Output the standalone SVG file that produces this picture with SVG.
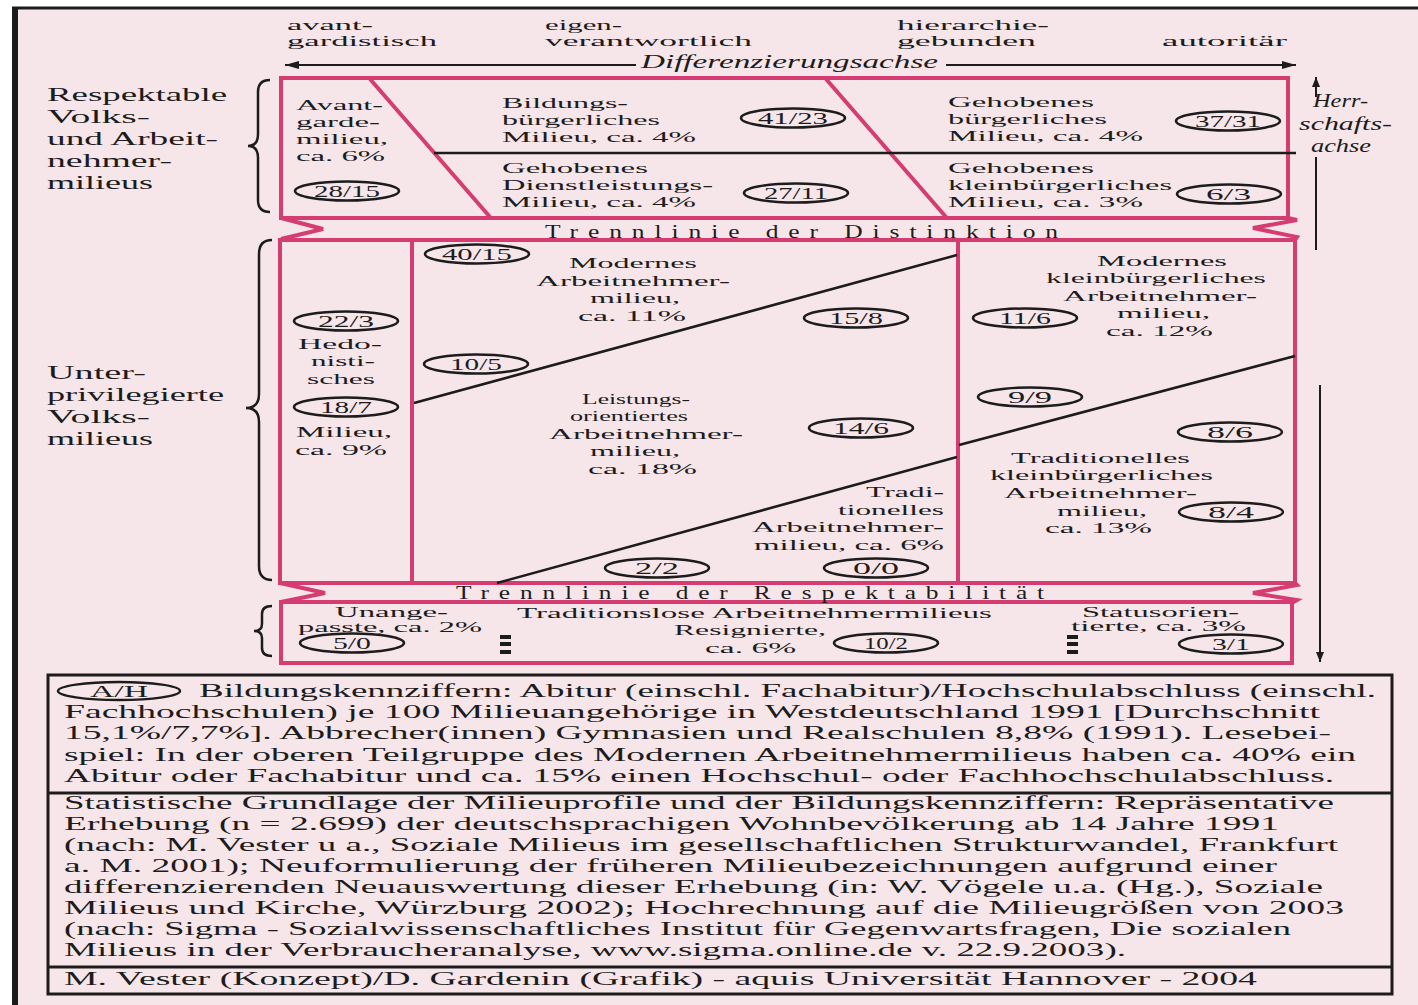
<svg xmlns="http://www.w3.org/2000/svg" width="1418" height="1005" viewBox="0 0 1418 1005">
<defs>
<style>
text{font-family:"Liberation Serif","DejaVu Serif",serif;font-size:15.5px;fill:#1c1c1c}
.tp{font-size:15px}
.l{font-size:19px}
.lg{font-size:18.5px}
.h{font-size:18px}
.nm{font-size:16px}
.bt{font-size:14px}
.it{font-style:italic}
.pk{fill:none;stroke:#d43c72;stroke-width:4}
.bk{fill:none;stroke:#1c1c1c;stroke-width:2.5}
.ov{fill:none;stroke:#1c1c1c;stroke-width:2.5}
.ax{fill:none;stroke:#1c1c1c;stroke-width:2}
.sp{font-size:18px;letter-spacing:7px}
</style>
<marker id="ah" viewBox="0 0 14 8" refX="14" refY="4" markerWidth="14" markerHeight="8" orient="auto" markerUnits="userSpaceOnUse"><path d="M0,0 L14,4 L0,8 z" fill="#1c1c1c"/></marker>
<marker id="ahs" viewBox="0 0 10 8" refX="10" refY="4" markerWidth="10" markerHeight="8" orient="auto" markerUnits="userSpaceOnUse"><path d="M0,0 L10,4 L0,8 z" fill="#1c1c1c"/></marker>
</defs>
<rect x="0" y="0" width="1418" height="1005" fill="#ffffff"/>
<rect x="12" y="7" width="1406" height="998" fill="#f6e6ea"/>
<line x1="12" y1="8" x2="1418" y2="8" stroke="#1c1c1c" stroke-width="3"/>
<line x1="15" y1="7" x2="15" y2="1005" stroke="#1c1c1c" stroke-width="6"/>

<g id="axis-labels">
<text class="tp" x="287" y="30" textLength="86" lengthAdjust="spacingAndGlyphs">avant-</text>
<text class="tp" x="287" y="46" textLength="150" lengthAdjust="spacingAndGlyphs">gardistisch</text>
<text class="tp" x="545" y="30" textLength="77" lengthAdjust="spacingAndGlyphs">eigen-</text>
<text class="tp" x="545" y="46" textLength="207" lengthAdjust="spacingAndGlyphs">verantwortlich</text>
<text class="tp" x="897" y="30" textLength="152" lengthAdjust="spacingAndGlyphs">hierarchie-</text>
<text class="tp" x="897" y="46" textLength="139" lengthAdjust="spacingAndGlyphs">gebunden</text>
<text class="tp" x="1162" y="46" textLength="125" lengthAdjust="spacingAndGlyphs">autoritär</text>
<text class="it h" x="641" y="68" textLength="297" lengthAdjust="spacingAndGlyphs">Differenzierungsachse</text>
<text class="it h" x="1313" y="107" textLength="55" lengthAdjust="spacingAndGlyphs">Herr-</text>
<text class="it h" x="1299" y="130" textLength="93" lengthAdjust="spacingAndGlyphs">schafts-</text>
<text class="it h" x="1311" y="152" textLength="60" lengthAdjust="spacingAndGlyphs">achse</text>
</g>

<g id="group-labels">
<text class="l" x="47" y="101" textLength="180" lengthAdjust="spacingAndGlyphs">Respektable</text>
<text class="l" x="47" y="123" textLength="103" lengthAdjust="spacingAndGlyphs">Volks-</text>
<text class="l" x="47" y="145" textLength="171" lengthAdjust="spacingAndGlyphs">und Arbeit-</text>
<text class="l" x="47" y="167" textLength="125" lengthAdjust="spacingAndGlyphs">nehmer-</text>
<text class="l" x="47" y="189" textLength="106" lengthAdjust="spacingAndGlyphs">milieus</text>
<text class="l" x="47" y="379" textLength="99" lengthAdjust="spacingAndGlyphs">Unter-</text>
<text class="l" x="47" y="401" textLength="177" lengthAdjust="spacingAndGlyphs">privilegierte</text>
<text class="l" x="47" y="423" textLength="103" lengthAdjust="spacingAndGlyphs">Volks-</text>
<text class="l" x="47" y="445" textLength="106" lengthAdjust="spacingAndGlyphs">milieus</text>
<path class="bk" d="M270,80 Q258,80 258,92 L258,134 Q258,146 248,146 Q258,146 258,158 L258,200 Q258,212 270,212"/>
<path class="bk" d="M272,240 Q259,240 259,254 L259,394 Q259,408 246,408 Q259,408 259,422 L259,566 Q259,580 272,580"/>
<path class="bk" d="M272,606 Q262,606 262,614 L262,624 Q262,631 254,631 Q262,631 262,638 L262,648 Q262,656 272,656"/>
</g>

<g id="frames">
<rect class="pk" x="281" y="78" width="1007" height="140"/>
<line class="pk" x1="370" y1="79" x2="490" y2="217"/>
<line class="pk" x1="826" y1="79" x2="946" y2="217"/>
<line class="bk" x1="434" y1="153" x2="1296" y2="153"/>
<polyline class="pk" points="281,218 323,229 281,239"/>
<polyline class="pk" points="1288,218 1297,220 1253,228 1297,237 1295,240"/>
<rect class="pk" x="280" y="240" width="1015" height="343"/>
<line class="pk" x1="412" y1="240" x2="412" y2="583"/>
<line class="pk" x1="958" y1="240" x2="958" y2="583"/>
<line class="bk" x1="414" y1="403" x2="957" y2="255"/>
<line class="bk" x1="959" y1="445" x2="1295" y2="356"/>
<line class="bk" x1="497" y1="583" x2="957" y2="457"/>
<polyline class="pk" points="280,583 325,593 281,602"/>
<polyline class="pk" points="1295,583 1297,585 1253,593 1297,600 1292,603"/>
<rect class="pk" x="281" y="602" width="1011" height="61"/>
</g>

<g id="separators">
<text class="sp" x="545" y="238" textLength="523" lengthAdjust="spacingAndGlyphs">Trennlinie der Distinktion</text>
<text class="sp" x="456" y="599" textLength="598" lengthAdjust="spacingAndGlyphs">Trennlinie der Respektabilität</text>
</g>

<g id="connectors">
<line class="ax" x1="636" y1="65" x2="285" y2="65" marker-end="url(#ah)"/>
<line class="ax" x1="946" y1="65" x2="1296" y2="65" marker-end="url(#ah)"/>
<line class="ax" x1="1316" y1="97" x2="1316" y2="77" marker-end="url(#ahs)"/>
<line class="ax" x1="1316" y1="157" x2="1316" y2="250"/>
<line class="ax" x1="1320" y1="385" x2="1320" y2="662" marker-end="url(#ahs)"/>
</g>

<g id="avantgarde">
<text x="296" y="110" textLength="87" lengthAdjust="spacingAndGlyphs">Avant-</text>
<text x="296" y="127" textLength="84" lengthAdjust="spacingAndGlyphs">garde-</text>
<text x="296" y="144" textLength="92" lengthAdjust="spacingAndGlyphs">milieu,</text>
<text x="296" y="161" textLength="89" lengthAdjust="spacingAndGlyphs">ca. 6%</text>
<ellipse class="ov" cx="347" cy="191" rx="52" ry="9.5"/>
<text class="nm" x="314" y="197" textLength="66" lengthAdjust="spacingAndGlyphs">28/15</text>
</g>

<g id="bildungsbuergerlich">
<text x="502" y="108" textLength="126" lengthAdjust="spacingAndGlyphs">Bildungs-</text>
<text x="502" y="125" textLength="158" lengthAdjust="spacingAndGlyphs">bürgerliches</text>
<text x="502" y="142" textLength="194" lengthAdjust="spacingAndGlyphs">Milieu, ca. 4%</text>
<ellipse class="ov" cx="793" cy="118" rx="52" ry="9.5"/>
<text class="nm" x="758" y="124" textLength="70" lengthAdjust="spacingAndGlyphs">41/23</text>
</g>

<g id="dienstleistung">
<text x="502" y="173" textLength="146" lengthAdjust="spacingAndGlyphs">Gehobenes</text>
<text x="502" y="190" textLength="211" lengthAdjust="spacingAndGlyphs">Dienstleistungs-</text>
<text x="502" y="207" textLength="194" lengthAdjust="spacingAndGlyphs">Milieu, ca. 4%</text>
<ellipse class="ov" cx="796" cy="193" rx="52" ry="9.5"/>
<text class="nm" x="764" y="199" textLength="64" lengthAdjust="spacingAndGlyphs">27/11</text>
</g>

<g id="gehoben-buergerlich">
<text x="948" y="107" textLength="146" lengthAdjust="spacingAndGlyphs">Gehobenes</text>
<text x="948" y="124" textLength="159" lengthAdjust="spacingAndGlyphs">bürgerliches</text>
<text x="948" y="141" textLength="195" lengthAdjust="spacingAndGlyphs">Milieu, ca. 4%</text>
<ellipse class="ov" cx="1228" cy="121" rx="52" ry="9.5"/>
<text class="nm" x="1195" y="127" textLength="66" lengthAdjust="spacingAndGlyphs">37/31</text>
</g>

<g id="gehoben-kleinbuergerlich">
<text x="948" y="173" textLength="146" lengthAdjust="spacingAndGlyphs">Gehobenes</text>
<text x="948" y="190" textLength="224" lengthAdjust="spacingAndGlyphs">kleinbürgerliches</text>
<text x="948" y="207" textLength="195" lengthAdjust="spacingAndGlyphs">Milieu, ca. 3%</text>
<ellipse class="ov" cx="1229" cy="194" rx="52" ry="9.5"/>
<text class="nm" x="1206" y="200" textLength="45" lengthAdjust="spacingAndGlyphs">6/3</text>
</g>

<g id="hedonistisch">
<ellipse class="ov" cx="346" cy="321" rx="52" ry="9.5"/>
<text class="nm" x="318" y="327" textLength="56" lengthAdjust="spacingAndGlyphs">22/3</text>
<text x="298" y="349" textLength="84" lengthAdjust="spacingAndGlyphs">Hedo-</text>
<text x="311" y="366" textLength="64" lengthAdjust="spacingAndGlyphs">nisti-</text>
<text x="307" y="384" textLength="68" lengthAdjust="spacingAndGlyphs">sches</text>
<ellipse class="ov" cx="346" cy="407" rx="52" ry="9.5"/>
<text class="nm" x="320" y="413" textLength="52" lengthAdjust="spacingAndGlyphs">18/7</text>
<text x="296" y="437" textLength="96" lengthAdjust="spacingAndGlyphs">Milieu,</text>
<text x="295" y="455" textLength="92" lengthAdjust="spacingAndGlyphs">ca. 9%</text>
</g>

<g id="modernes-arbeitnehmer">
<ellipse class="ov" cx="477" cy="254" rx="52" ry="9.5"/>
<text class="nm" x="442" y="260" textLength="70" lengthAdjust="spacingAndGlyphs">40/15</text>
<text x="569" y="268" textLength="128" lengthAdjust="spacingAndGlyphs">Modernes</text>
<text x="536" y="286" textLength="194" lengthAdjust="spacingAndGlyphs">Arbeitnehmer-</text>
<text x="590" y="303" textLength="90" lengthAdjust="spacingAndGlyphs">milieu,</text>
<text x="578" y="321" textLength="108" lengthAdjust="spacingAndGlyphs">ca. 11%</text>
<ellipse class="ov" cx="856" cy="318" rx="52" ry="9.5"/>
<text class="nm" x="829" y="324" textLength="54" lengthAdjust="spacingAndGlyphs">15/8</text>
<ellipse class="ov" cx="476" cy="364" rx="52" ry="9.5"/>
<text class="nm" x="450" y="370" textLength="52" lengthAdjust="spacingAndGlyphs">10/5</text>
</g>

<g id="leistungsorientiert">
<text x="582" y="404" textLength="108" lengthAdjust="spacingAndGlyphs">Leistungs-</text>
<text x="570" y="421" textLength="118" lengthAdjust="spacingAndGlyphs">orientiertes</text>
<text x="549" y="439" textLength="194" lengthAdjust="spacingAndGlyphs">Arbeitnehmer-</text>
<text x="590" y="456" textLength="90" lengthAdjust="spacingAndGlyphs">milieu,</text>
<text x="588" y="474" textLength="109" lengthAdjust="spacingAndGlyphs">ca. 18%</text>
<ellipse class="ov" cx="861" cy="428" rx="52" ry="9.5"/>
<text class="nm" x="833" y="434" textLength="56" lengthAdjust="spacingAndGlyphs">14/6</text>
</g>

<g id="traditionelles-arbeitnehmer">
<text x="866" y="497" textLength="78" lengthAdjust="spacingAndGlyphs">Tradi-</text>
<text x="838" y="515" textLength="106" lengthAdjust="spacingAndGlyphs">tionelles</text>
<text x="752" y="532" textLength="192" lengthAdjust="spacingAndGlyphs">Arbeitnehmer-</text>
<text x="754" y="550" textLength="190" lengthAdjust="spacingAndGlyphs">milieu, ca. 6%</text>
<ellipse class="ov" cx="657" cy="568" rx="52" ry="9.5"/>
<text class="nm" x="635" y="574" textLength="44" lengthAdjust="spacingAndGlyphs">2/2</text>
<ellipse class="ov" cx="876" cy="568" rx="52" ry="9.5"/>
<text class="nm" x="853" y="574" textLength="46" lengthAdjust="spacingAndGlyphs">0/0</text>
</g>

<g id="modernes-kleinbuergerlich">
<text x="1097" y="266" textLength="130" lengthAdjust="spacingAndGlyphs">Modernes</text>
<text x="1046" y="283" textLength="220" lengthAdjust="spacingAndGlyphs">kleinbürgerliches</text>
<text x="1063" y="301" textLength="194" lengthAdjust="spacingAndGlyphs">Arbeitnehmer-</text>
<text x="1117" y="318" textLength="93" lengthAdjust="spacingAndGlyphs">milieu,</text>
<text x="1106" y="336" textLength="107" lengthAdjust="spacingAndGlyphs">ca. 12%</text>
<ellipse class="ov" cx="1025" cy="318" rx="52" ry="9.5"/>
<text class="nm" x="999" y="324" textLength="52" lengthAdjust="spacingAndGlyphs">11/6</text>
<ellipse class="ov" cx="1030" cy="397" rx="52" ry="9.5"/>
<text class="nm" x="1008" y="403" textLength="44" lengthAdjust="spacingAndGlyphs">9/9</text>
</g>

<g id="traditionelles-kleinbuergerlich">
<ellipse class="ov" cx="1230" cy="432" rx="52" ry="9.5"/>
<text class="nm" x="1207" y="438" textLength="46" lengthAdjust="spacingAndGlyphs">8/6</text>
<text x="1011" y="463" textLength="179" lengthAdjust="spacingAndGlyphs">Traditionelles</text>
<text x="990" y="480" textLength="223" lengthAdjust="spacingAndGlyphs">kleinbürgerliches</text>
<text x="1004" y="498" textLength="193" lengthAdjust="spacingAndGlyphs">Arbeitnehmer-</text>
<text x="1057" y="516" textLength="90" lengthAdjust="spacingAndGlyphs">milieu,</text>
<text x="1045" y="533" textLength="107" lengthAdjust="spacingAndGlyphs">ca. 13%</text>
<ellipse class="ov" cx="1231" cy="512" rx="52" ry="9.5"/>
<text class="nm" x="1208" y="518" textLength="46" lengthAdjust="spacingAndGlyphs">8/4</text>
</g>

<g id="traditionslose">
<text class="bt" x="335" y="617" textLength="113" lengthAdjust="spacingAndGlyphs">Unange-</text>
<text class="bt" x="298" y="632" textLength="184" lengthAdjust="spacingAndGlyphs">passte, ca. 2%</text>
<ellipse class="ov" cx="352" cy="643" rx="52" ry="9.5"/>
<text class="nm" x="333" y="649" textLength="38" lengthAdjust="spacingAndGlyphs">5/0</text>
<rect x="500" y="635" width="11" height="4" fill="#1c1c1c"/>
<rect x="500" y="642" width="11" height="4" fill="#1c1c1c"/>
<rect x="500" y="650" width="11" height="4" fill="#1c1c1c"/>
<text class="bt" x="517" y="618" textLength="475" lengthAdjust="spacingAndGlyphs">Traditionslose Arbeitnehmermilieus</text>
<text class="bt" x="674" y="635" textLength="152" lengthAdjust="spacingAndGlyphs">Resignierte,</text>
<text class="bt" x="705" y="653" textLength="91" lengthAdjust="spacingAndGlyphs">ca. 6%</text>
<ellipse class="ov" cx="886" cy="643" rx="52" ry="9.5"/>
<text class="nm" x="864" y="649" textLength="44" lengthAdjust="spacingAndGlyphs">10/2</text>
<rect x="1067" y="635" width="11" height="4" fill="#1c1c1c"/>
<rect x="1067" y="642" width="11" height="4" fill="#1c1c1c"/>
<rect x="1067" y="650" width="11" height="4" fill="#1c1c1c"/>
<text class="bt" x="1082" y="617" textLength="157" lengthAdjust="spacingAndGlyphs">Statusorien-</text>
<text class="bt" x="1071" y="631" textLength="175" lengthAdjust="spacingAndGlyphs">tierte, ca. 3%</text>
<ellipse class="ov" cx="1231" cy="644" rx="52" ry="9.5"/>
<text class="nm" x="1212" y="650" textLength="38" lengthAdjust="spacingAndGlyphs">3/1</text>
</g>

<g id="legend">
<rect x="48" y="675" width="1344" height="319" fill="none" stroke="#1c1c1c" stroke-width="3"/>
<line x1="48" y1="793" x2="1392" y2="793" stroke="#1c1c1c" stroke-width="3"/>
<line x1="48" y1="967" x2="1392" y2="967" stroke="#1c1c1c" stroke-width="3"/>
<ellipse class="ov" cx="119" cy="691" rx="61" ry="9"/>
<text class="nm" x="90" y="697" textLength="58" lengthAdjust="spacingAndGlyphs">A/H</text>
<text class="lg" x="199" y="697" textLength="1177" lengthAdjust="spacingAndGlyphs">Bildungskennziffern: Abitur (einschl. Fachabitur)/Hochschulabschluss (einschl.</text>
<text class="lg" x="64" y="718" textLength="1256" lengthAdjust="spacingAndGlyphs">Fachhochschulen) je 100 Milieuangehörige in Westdeutschland 1991 [Durchschnitt</text>
<text class="lg" x="64" y="739" textLength="1267" lengthAdjust="spacingAndGlyphs">15,1%/7,7%]. Abbrecher(innen) Gymnasien und Realschulen 8,8% (1991). Lesebei-</text>
<text class="lg" x="64" y="761" textLength="1292" lengthAdjust="spacingAndGlyphs">spiel: In der oberen Teilgruppe des Modernen Arbeitnehmermilieus haben ca. 40% ein</text>
<text class="lg" x="64" y="782" textLength="1270" lengthAdjust="spacingAndGlyphs">Abitur oder Fachabitur und ca. 15% einen Hochschul- oder Fachhochschulabschluss.</text>
<text class="lg" x="64" y="809" textLength="1270" lengthAdjust="spacingAndGlyphs">Statistische Grundlage der Milieuprofile und der Bildungskennziffern: Repräsentative</text>
<text class="lg" x="64" y="830" textLength="1215" lengthAdjust="spacingAndGlyphs">Erhebung (n = 2.699) der deutschsprachigen Wohnbevölkerung ab 14 Jahre 1991</text>
<text class="lg" x="64" y="851" textLength="1274" lengthAdjust="spacingAndGlyphs">(nach: M. Vester u a., Soziale Milieus im gesellschaftlichen Strukturwandel, Frankfurt</text>
<text class="lg" x="64" y="872" textLength="1213" lengthAdjust="spacingAndGlyphs">a. M. 2001); Neuformulierung der früheren Milieubezeichnungen aufgrund einer</text>
<text class="lg" x="64" y="893" textLength="1259" lengthAdjust="spacingAndGlyphs">differenzierenden Neuauswertung dieser Erhebung (in: W. Vögele u.a. (Hg.), Soziale</text>
<text class="lg" x="64" y="914" textLength="1280" lengthAdjust="spacingAndGlyphs">Milieus und Kirche, Würzburg 2002); Hochrechnung auf die Milieugrößen von 2003</text>
<text class="lg" x="64" y="935" textLength="1227" lengthAdjust="spacingAndGlyphs">(nach: Sigma - Sozialwissenschaftliches Institut für Gegenwartsfragen, Die sozialen</text>
<text class="lg" x="64" y="956" textLength="1062" lengthAdjust="spacingAndGlyphs">Milieus in der Verbraucheranalyse, www.sigma.online.de v. 22.9.2003).</text>
<text class="lg" x="64" y="985" textLength="1193" lengthAdjust="spacingAndGlyphs">M. Vester (Konzept)/D. Gardenin (Grafik) - aquis Universität Hannover - 2004</text>
</g>
</svg>
